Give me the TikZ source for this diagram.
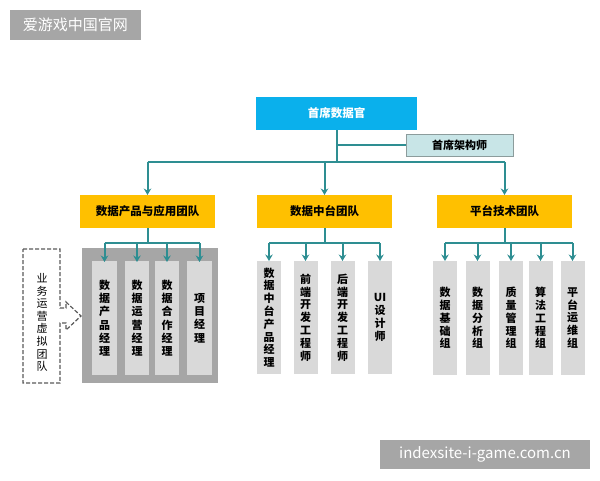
\documentclass[tikz,border=0pt]{standalone}
\usepackage{fontspec}
\setmainfont{Noto Sans CJK SC}
\usetikzlibrary{arrows.meta}
\definecolor{cdoblue}{HTML}{0AB0EC}
\definecolor{archfill}{HTML}{C8E5E7}
\definecolor{archline}{HTML}{8C9C9C}
\definecolor{teamyellow}{HTML}{FFC000}
\definecolor{teal}{HTML}{2E8E92}
\definecolor{contgray}{HTML}{A6A6A6}
\definecolor{childgray}{HTML}{D9D9D9}
\definecolor{wmgray}{HTML}{A6A6A6}
\begin{document}
\begin{tikzpicture}[x=1pt,y=-1pt,
  every node/.style={inner sep=0pt,outer sep=0pt},
  cdobox/.style={fill=cdoblue,text=white,font=\bfseries\fontsize{11.5}{13}\selectfont,minimum width=161pt,minimum height=33pt},
  archbox/.style={fill=archfill,draw=archline,line width=0.8pt,font=\bfseries\fontsize{11}{13}\selectfont,minimum width=107pt,minimum height=22pt},
  teambox/.style={fill=teamyellow,font=\bfseries\fontsize{11.5}{13}\selectfont,minimum width=135pt,minimum height=33pt},
  rolebox/.style={fill=childgray,font=\bfseries\fontsize{11}{12.8}\selectfont,align=center,minimum height=114pt},
  wideline/.style={font=\bfseries\fontsize{11}{13.3}\selectfont},
  conn/.style={draw=teal,line width=2pt},
  arr/.style={conn,-{Stealth[length=6.5pt,width=7.5pt]}},
  wm/.style={fill=wmgray,text=white,font=\fontsize{15}{17}\selectfont}
]
\useasboundingbox (0,0) rectangle (600,480);

% watermarks
\node[wm,minimum width=131pt,minimum height=30pt] (wm1) at (75.5,25) {爱游戏中国官网};
\node[wm,minimum width=210pt,minimum height=29pt] (wm2) at (485,454.5) {indexsite-i-game.com.cn};

% top
\node[cdobox] (cdo) at (336.5,113.5) {首席数据官};
\node[archbox] (arch) at (459.5,145) {首席架构师};

% teams
\node[teambox] (g1) at (147.5,211.5) {数据产品与应用团队};
\node[teambox] (g2) at (324.5,211.5) {数据中台团队};
\node[teambox] (g3) at (504.5,211.5) {平台技术团队};

\coordinate (bus) at (0,162);
\coordinate (sub) at (0,243);

\draw[conn] (cdo.south) -- (cdo.south |- bus);
\draw[conn] (cdo.south |- arch.west) -- (arch.west);
\draw[conn] (g1.north |- bus) -- (g3.north |- bus);
\draw[arr] (g1.north |- bus) -- (g1.north);
\draw[arr] (g2.north |- bus) -- (g2.north);
\draw[arr] (g3.north |- bus) -- (g3.north);

% group 1 container
\fill[contgray] (82,248) rectangle (218,383);
\node[rolebox,wideline,minimum width=25pt] (a1) at (104.5,318) {数\\据\\产\\品\\经\\理};
\node[rolebox,wideline,minimum width=24pt] (a2) at (137,318) {数\\据\\运\\营\\经\\理};
\node[rolebox,wideline,minimum width=24pt] (a3) at (167,318) {数\\据\\合\\作\\经\\理};
\node[rolebox,wideline,minimum width=25pt] (a4) at (199.5,318) {项\\目\\经\\理};

% group 2
\node[rolebox,minimum width=24pt,minimum height=113pt] (b1) at (269,317.5) {数\\据\\中\\台\\产\\品\\经\\理};
\node[rolebox,minimum width=24pt,minimum height=113pt] (b2) at (305.5,317.5) {前\\端\\开\\发\\工\\程\\师};
\node[rolebox,minimum width=24pt,minimum height=113pt] (b3) at (342.5,317.5) {后\\端\\开\\发\\工\\程\\师};
\node[rolebox,minimum width=24pt,minimum height=113pt] (b4) at (380,317.5) {UI\\设\\计\\师};

% group 3
\node[rolebox,minimum width=24pt] (c1) at (445,318) {数\\据\\基\\础\\组};
\node[rolebox,minimum width=24pt] (c2) at (477.5,318) {数\\据\\分\\析\\组};
\node[rolebox,minimum width=24pt] (c3) at (511,318) {质\\量\\管\\理\\组};
\node[rolebox,minimum width=24pt] (c4) at (540.5,318) {算\\法\\工\\程\\组};
\node[rolebox,minimum width=24pt] (c5) at (572.5,318) {平\\台\\运\\维\\组};

% sub connectors
\draw[conn] (g1.south) -- (g1.south |- sub);
\draw[conn] (a1.north |- sub) -- (a4.north |- sub);
\foreach \n in {a1,a2,a3,a4} \draw[arr] (\n.north |- sub) -- ([yshift=-1pt]\n.north);

\draw[conn] (g2.south) -- (g2.south |- sub);
\draw[conn] (b1.north |- sub) -- (b4.north |- sub);
\foreach \n in {b1,b2,b3,b4} \draw[arr] (\n.north |- sub) -- (\n.north);

\draw[conn] (g3.south) -- (g3.south |- sub);
\draw[conn] (c1.north |- sub) -- (c5.north |- sub);
\foreach \n in {c1,c2,c3,c4,c5} \draw[arr] (\n.north |- sub) -- (\n.north);

% virtual team
\draw[draw=black!65,line width=1.2pt,dash pattern=on 4pt off 2pt]
  (23,249) -- (60,249) -- (60,308) -- (66,308) -- (66,302) -- (81,316)
  -- (66,330) -- (66,323) -- (60,323) -- (60,383) -- (23,383) -- cycle;
\node[align=center,font=\fontsize{11}{12.6}\selectfont] (vt) at (42,322.5)
  {业\\务\\运\\营\\虚\\拟\\团\\队};
\end{tikzpicture}
\end{document}
